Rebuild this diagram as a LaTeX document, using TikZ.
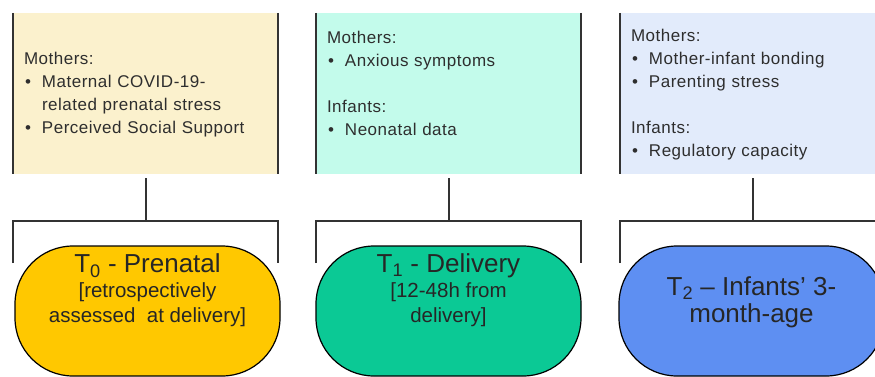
\documentclass[tikz,border=0pt]{standalone}
\usepackage{fontspec}
\setmainfont{Liberation Sans}
\newfontfamily\boxfont[LetterSpace=3]{Liberation Sans}
\usepackage{tikz}
\usetikzlibrary{positioning}
\definecolor{paleyellow}{HTML}{FBF1CD}
\definecolor{palemint}{HTML}{C3FBEB}
\definecolor{paleblue}{HTML}{E2EBFB}
\definecolor{goldphase}{HTML}{FFC800}
\definecolor{greenphase}{HTML}{0BC995}
\definecolor{bluephase}{HTML}{5E8FF2}
\definecolor{linegrey}{HTML}{333333}
\definecolor{textgrey}{HTML}{2E2E2E}
\tikzset{
  infobox/.style = {rectangle, inner xsep=11pt, inner ysep=0pt, minimum width=265pt, minimum height=161pt,
    text width=243pt, align=left, text=textgrey, text height=15pt, font=\boxfont\fontsize{17}{23}\selectfont},
  phase/.style = {rectangle, draw=black, line width=1.2pt, rounded corners=58pt, minimum width=265pt,
    minimum height=130pt, align=center, text height=28pt, text=black!85, font=\fontsize{26}{25}\selectfont},
  link/.style = {draw=linegrey, line width=2pt},
}
\newcommand{\bitem}{\makebox[18pt][l]{\hspace{1pt}\textbullet}}
\newcommand{\subline}[1]{{\fontsize{20.5}{25}\selectfont #1}}

\begin{document}
\begin{tikzpicture}[x=1pt, y=-1pt]
\useasboundingbox (0,0) rectangle (875,376);
% measures per time point
\node [infobox, fill=paleyellow] (b0) at (145.5,93.5)
  {Mothers:\\ \bitem Maternal COVID-19-\\ \hspace*{18pt}related prenatal stress\\ \bitem Perceived Social Support};
\node [infobox, fill=palemint] (b1) at (448.5,93.5)
  {Mothers:\\ \bitem Anxious symptoms\\[23pt] Infants:\\ \bitem Neonatal data\\ \mbox{}};
\node [infobox, fill=paleblue] (b2) at (752.5,93.5)
  {Mothers:\\ \bitem Mother-infant bonding\\ \bitem Parenting stress\\[23pt] Infants:\\ \bitem Regulatory capacity};
\foreach \b in {b0,b1,b2} {
  \draw [link] (\b.north west) -- (\b.south west);
  \draw [link] (\b.north east) -- (\b.south east);
}
% time points
\node [phase, fill=goldphase] (t0) at (147.5,311)
  {T\textsubscript{0} - Prenatal\\ \subline{[retrospectively}\\ \subline{assessed\ \ at delivery]}};
\node [phase, fill=greenphase] (t1) at (448.5,311)
  {T\textsubscript{1} - Delivery\\ \subline{[12-48h from}\\ \subline{delivery]}};
\node [phase, fill=bluephase] (t2) at (751.5,311)
  {T\textsubscript{2} -- Infants’ 3-\\[2pt] month-age};
% brackets
\coordinate (k0) at (145.5,221);
\coordinate (k1) at (448.5,221);
\coordinate (k2) at (752.5,221);
\coordinate (l0) at (13,263);  \coordinate (r0) at (278,263);
\coordinate (l1) at (316,263); \coordinate (r1) at (581,263);
\coordinate (l2) at (620,263); \coordinate (r2) at (885,263);
\foreach \i in {0,1,2} {
  \draw [link, shorten <=4pt] (b\i.south) -- (k\i);
  \draw [link] (l\i) |- (k\i) -| (r\i);
}
\end{tikzpicture}
\end{document}
